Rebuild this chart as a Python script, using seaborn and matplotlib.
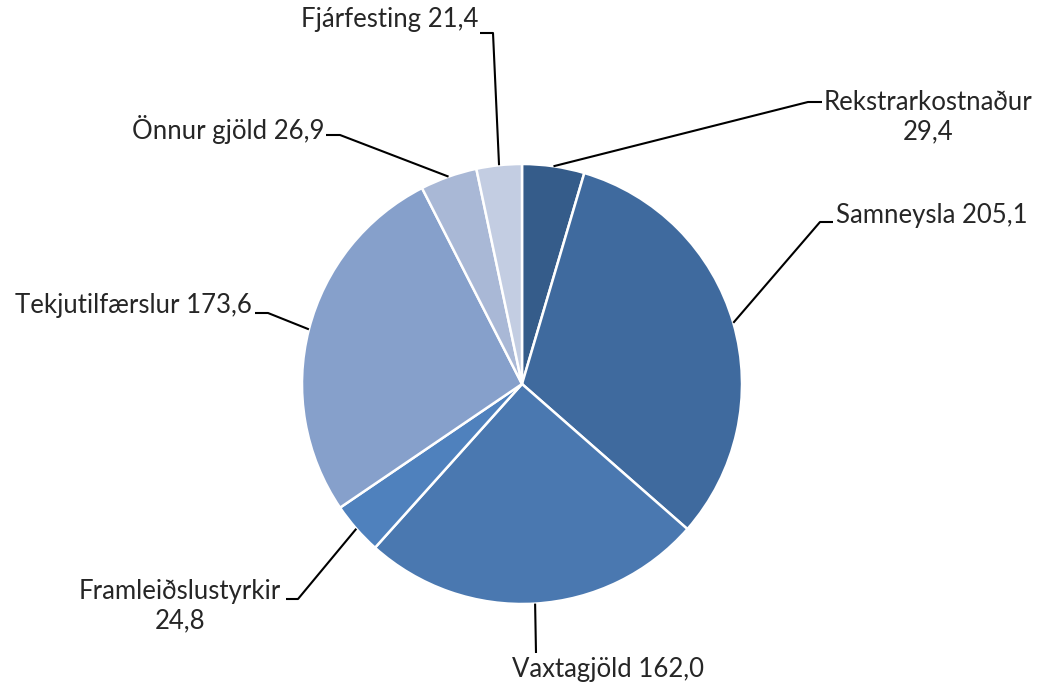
import numpy as np
import matplotlib
matplotlib.use("Agg")
import matplotlib.pyplot as plt
import seaborn as sns

categories = ['Rekstrarkostnaður', 'Samneysla', 'Vaxtagjöld', 'Framleiðslustyrkir',
              'Tekjutilfærslur', 'Önnur gjöld', 'Fjárfesting']
values = [29.4, 205.1, 162.0, 24.8, 173.6, 26.9, 21.4]
colors = ['#355C8A', '#3F6A9E', '#4A78B0', '#4F81BD', '#86A0CB', '#A9B8D6', '#C3CDE2']

sns.set_theme(style="white")
plt.rcParams['font.family'] = ['Lato', 'DejaVu Sans']

W, H = 1039, 686
cx, cy, R = 522, 384, 220


def px(x, y):
    # pixel coords -> data coords (radius 1 pie centred at 0,0)
    return (x - cx) / R, (cy - y) / R


fig = plt.figure(figsize=(W / 100, H / 100), dpi=100)
ax = fig.add_axes([0, 0, 1, 1])
wedges, _ = ax.pie(values, colors=colors, startangle=90, counterclock=False,
                   radius=1, wedgeprops=dict(edgecolor='white', linewidth=1.8))
ax.set_xlim(-cx / R, (W - cx) / R)
ax.set_ylim(-(H - cy) / R, cy / R)
ax.set_aspect('auto')
ax.axis('off')

# label layout: elbow, line end, text pos, alignment
layout = [
    ((808, 102), (822, 102), (928, 117), 'center'),
    ((820, 222), (833, 222), (836, 216), 'left'),
    ((536, 653), (536, 653), (608, 670), 'center'),
    ((298, 599), (286, 599), (180, 606), 'center'),
    ((268, 313), (255, 313), (252, 305), 'right'),
    ((340, 135), (326, 135), (325, 129), 'right'),
    ((493, 33), (480, 33), (478, 20), 'right'),
]

two_line = {'Rekstrarkostnaður', 'Framleiðslustyrkir'}
for w, cat, val, (elb, end, tpos, ha) in zip(wedges, categories, values, layout):
    ang = np.deg2rad((w.theta1 + w.theta2) / 2)
    sx, sy = np.cos(ang), np.sin(ang)
    ex, ey = px(*elb)
    nx, ny = px(*end)
    ax.plot([sx, ex, nx], [sy, ey, ny], color='black', lw=1.5, solid_capstyle='butt')
    num = f'{val:.1f}'.replace('.', ',')
    txt = f'{cat}\n{num}' if cat in two_line else f'{cat} {num}'
    tx, ty = px(*tpos)
    ax.text(tx, ty, txt, ha=ha, va='center', fontsize=18.5, color='#262626',
            linespacing=1.25, multialignment='center')

fig.savefig('out.png', dpi=100, facecolor='white')
